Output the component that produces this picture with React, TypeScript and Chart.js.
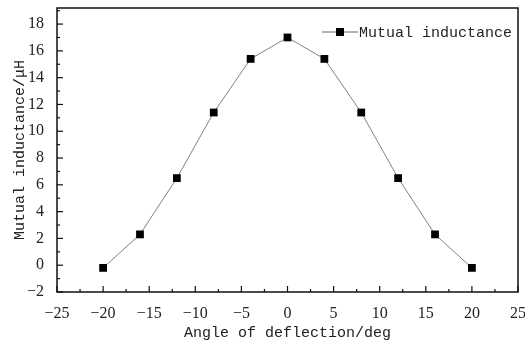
import React, { useEffect, useRef } from "react";
import { Chart, registerables } from "chart.js";

Chart.register(...registerables);

const angles = [-20, -16, -12, -8, -4, 0, 4, 8, 12, 16, 20];
const inductance = [-0.2, 2.3, 6.5, 11.4, 15.4, 17.0, 15.4, 11.4, 6.5, 2.3, -0.2];
const yTickValues = [-2, 0, 2, 4, 6, 8, 10, 12, 14, 16, 18];
const seriesLabel = "Mutual inductance";
const xTitle = "Angle of deflection/deg";
const yTitle = "Mutual inductance/\u03bcH";

const framePlugin = {
  id: "frame",
  afterDraw(chart: any) {
    const { ctx, chartArea: a, scales } = chart;
    const xs = scales.x;
    const ys = scales.y;
    ctx.save();
    ctx.strokeStyle = "#111";
    ctx.lineWidth = 1.5;
    ctx.strokeRect(a.left, a.top, a.right - a.left, a.bottom - a.top);
    ctx.lineWidth = 1.2;
    for (let v = -25; v <= 25; v += 2.5) {
      const px = xs.getPixelForValue(v);
      const major = Math.abs(v % 5) < 1e-9;
      const len = major ? 6 : 3;
      ctx.beginPath();
      ctx.moveTo(px, a.bottom);
      ctx.lineTo(px, a.bottom - len);
      ctx.stroke();
    }
    for (let v = -2; v <= 19; v += 1) {
      const py = ys.getPixelForValue(v);
      const major = v % 2 === 0;
      const len = major ? 6 : 3;
      ctx.beginPath();
      ctx.moveTo(a.left, py);
      ctx.lineTo(a.left + len, py);
      ctx.stroke();
    }
    const ly = 32;
    const lx1 = a.right - 196;
    const lx2 = lx1 + 36;
    ctx.strokeStyle = "#666";
    ctx.lineWidth = 1;
    ctx.beginPath();
    ctx.moveTo(lx1, ly);
    ctx.lineTo(lx2, ly);
    ctx.stroke();
    ctx.fillStyle = "#000";
    ctx.fillRect((lx1 + lx2) / 2 - 4, ly - 4, 8, 8);
    ctx.font = "15px 'Liberation Mono', monospace";
    ctx.textBaseline = "middle";
    ctx.fillStyle = "#222";
    ctx.fillText(seriesLabel, lx2 + 1, ly + 1);
    ctx.restore();
  },
};

export default function App() {
  const ref = useRef<HTMLCanvasElement>(null);
  useEffect(() => {
    if (!ref.current) return;
    const chart = new Chart(ref.current, {
      type: "scatter",
      data: {
        datasets: [
          {
            label: seriesLabel,
            data: angles.map((x, i) => ({ x, y: inductance[i] })),
            showLine: true,
            borderColor: "#808080",
            borderWidth: 1,
            pointStyle: "rect",
            pointRadius: 5.5,
            pointBackgroundColor: "#000",
            pointBorderColor: "#000",
            pointBorderWidth: 0,
          },
        ],
      },
      options: {
        animation: false,
        responsive: false,
        layout: { padding: { top: 8, right: 7, left: 0, bottom: 0 } },
        plugins: { legend: { display: false }, tooltip: { enabled: false } },
        scales: {
          x: {
            type: "linear",
            min: -25,
            max: 25,
            grid: { display: false },
            border: { display: false },
            ticks: {
              stepSize: 5,
              autoSkip: false,
              maxRotation: 0,
              color: "#222",
              padding: 4,
              font: { family: "'Liberation Serif', serif", size: 16 },
              callback: (v: any) => (v < 0 ? "\u2212" + Math.abs(v) : String(v)),
            },
            title: {
              display: true,
              text: xTitle,
              color: "#222",
              font: { family: "'Liberation Mono', monospace", size: 15 },
              padding: { top: 0, bottom: 0 },
            },
            afterFit: (s: any) => {
              s.height = 50;
              s.paddingLeft = 0;
              s.paddingRight = 0;
            },
          },
          y: {
            type: "linear",
            min: -2,
            max: 19.2,
            grid: { display: false },
            border: { display: false },
            afterBuildTicks: (s: any) => {
              s.ticks = yTickValues.map((value) => ({ value }));
            },
            ticks: {
              autoSkip: false,
              color: "#222",
              padding: 5,
              font: { family: "'Liberation Serif', serif", size: 16 },
              callback: (v: any) => (v < 0 ? "\u2212" + Math.abs(v) : String(v)),
            },
            title: {
              display: true,
              text: yTitle,
              color: "#222",
              font: { family: "'Liberation Mono', monospace", size: 15 },
              padding: { top: 11, bottom: 0 },
            },
            afterFit: (s: any) => {
              s.width = 57;
              s.paddingTop = 0;
              s.paddingBottom = 0;
            },
          },
        },
      },
      plugins: [framePlugin],
    });
    return () => chart.destroy();
  }, []);
  return (
    <div style={{ position: "absolute", left: 0, top: 0, width: 525, height: 342, background: "#fff" }}>
      <canvas ref={ref} width={525} height={342} />
    </div>
  );
}
